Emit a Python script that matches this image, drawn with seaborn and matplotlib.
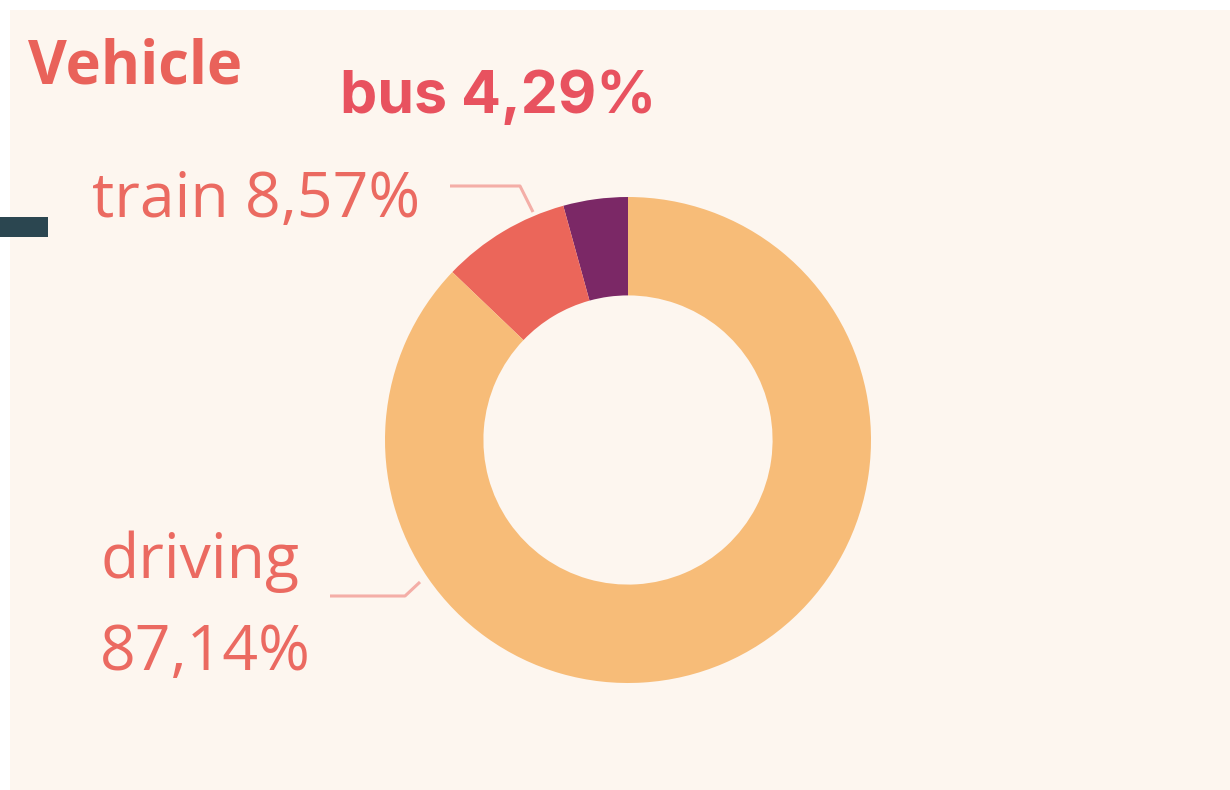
import numpy as np
import matplotlib.pyplot as plt
import seaborn as sns
from matplotlib.patches import Rectangle

# ==========================================================
# DATA
# ==========================================================

categories = ["bus", "train", "driving"]
shares = [4.29, 8.57, 87.14]
slice_colors = ["#7B2866", "#EB665A", "#F7BC78"]
title_text = "Vehicle"

sns.set_theme(style="white")
plt.rcParams["font.family"] = ["Open Sans", "DejaVu Sans"]

BG = "#FDF6EF"
TEXT_RED = "#EB6A61"
LINE_RED = "#F4AEA7"

W, H = 1230, 790


def fx(px):
    return px / W


def fy(py):
    return 1 - py / H


def pct(v):
    return f"{v:.2f}%".replace(".", ",")


# ==========================================================
# FIGURE
# ==========================================================

fig = plt.figure(figsize=(12.3, 7.9), dpi=100)
fig.patch.set_facecolor("white")
fig.patches.append(Rectangle((fx(10), 0), 1 - fx(10), fy(10), transform=fig.transFigure,
                             facecolor=BG, edgecolor="none", zorder=-2))
fig.patches.append(Rectangle((0, fy(237)), fx(48), fy(217) - fy(237), transform=fig.transFigure,
                             facecolor="#2B4650", edgecolor="none", zorder=-1))

# donut axes: centre (628, 440), radius 243 px
R = 243
cx, cy = 628, 440
side = 2.5 * R
ax = fig.add_axes([fx(cx - side / 2), fy(cy + side / 2), side / W, side / H])
ax.set_facecolor("none")
ax.set_zorder(1)

palette = sns.color_palette(slice_colors)
wedges, _ = ax.pie(
    shares,
    colors=palette,
    startangle=90,
    counterclock=True,
    radius=1,
    wedgeprops=dict(width=0.405, edgecolor="none", antialiased=True),
)
ax.set_xlim(-1.25, 1.25)
ax.set_ylim(-1.25, 1.25)
ax.set_aspect("equal")
ax.axis("off")


def d(px, py):
    return ((px - cx) / R, (cy - py) / R)


# leader lines
lx, ly = zip(d(450, 186), d(520, 186), d(533, 212))
ax.plot(lx, ly, color=LINE_RED, lw=2.2, clip_on=False, solid_capstyle="butt")
lx, ly = zip(d(330, 596), d(405, 596), d(420, 582))
ax.plot(lx, ly, color=LINE_RED, lw=2.2, clip_on=False, solid_capstyle="butt")

# ==========================================================
# TEXT
# ==========================================================

fig.text(fx(28), fy(83), title_text, fontsize=43, fontweight="bold",
         color="#E9625A", va="baseline", ha="left")

fig.text(fx(340), fy(113), f"{categories[0]} {pct(shares[0])}", fontsize=42.5,
         fontweight="bold", family=["Inter", "DejaVu Sans"],
         color="#E8525F", va="baseline", ha="left")

fig.text(fx(420), fy(217), f"{categories[1]} {pct(shares[1])}", fontsize=45,
         color=TEXT_RED, va="baseline", ha="right")

fig.text(fx(100), fy(578), categories[2], fontsize=45,
         color=TEXT_RED, va="baseline", ha="left")
fig.text(fx(100), fy(670), pct(shares[2]), fontsize=45,
         color=TEXT_RED, va="baseline", ha="left")

plt.savefig("out.png", dpi=100, facecolor=fig.get_facecolor())
